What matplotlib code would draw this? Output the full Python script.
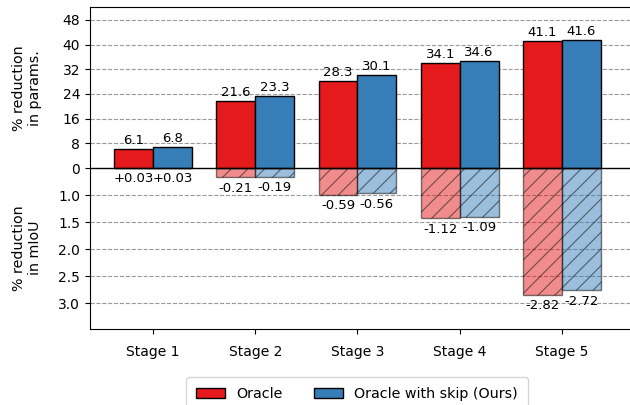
import matplotlib
matplotlib.use("Agg")
import matplotlib.pyplot as plt
import numpy as np
from matplotlib.patches import Patch

stages = ["Stage 1", "Stage 2", "Stage 3", "Stage 4", "Stage 5"]
params_oracle = [6.1, 21.6, 28.3, 34.1, 41.1]
params_skip = [6.8, 23.3, 30.1, 34.6, 41.6]
miou_oracle = [0.03, -0.21, -0.59, -1.12, -2.82]
miou_skip = [0.03, -0.19, -0.56, -1.09, -2.72]
series_names = ["Oracle", "Oracle with skip (Ours)"]
top_ticks = [0, 8, 16, 24, 32, 40, 48]
bottom_tick_pos = [0.6, 1.2, 1.8, 2.4, 3.0]
bottom_tick_labels = ["1.0", "1.5", "2.0", "2.5", "3.0"]

RED = "#e41a1c"
BLUE = "#377eb8"
SCALE = 14.6  # mIoU units -> axis units

plt.rcParams['font.family'] = ['DejaVu Sans']
plt.rcParams['hatch.linewidth'] = 0.8
fig = plt.figure(figsize=(6.3, 4.05), dpi=100)
ax = fig.add_axes([90/630, 1-329/405, (654-90)/630, (329-7)/405])

x = np.arange(len(stages))
w = 0.38

# hatched mIoU bars
for vals, col, off in [(miou_oracle, RED, -w/2), (miou_skip, BLUE, w/2)]:
    sv = [v*SCALE for v in vals]
    ax.bar(x+off, sv, w, color=col, alpha=0.5, hatch='//', edgecolor='black',
           linewidth=1, zorder=2)
    for xi, v in zip(x+off, vals):
        lab = f"+{v:.2f}" if v > 0 else f"{v:.2f}"
        ybot = min(0, v*SCALE)
        ax.text(xi, ybot-1.4, lab, ha='center', va='top', fontsize=9.5, zorder=5)

# solid params bars
for vals, col, off in [(params_oracle, RED, -w/2), (params_skip, BLUE, w/2)]:
    ax.bar(x+off, vals, w, color=col, edgecolor='black', linewidth=1, zorder=3)
    for xi, v in zip(x+off, vals):
        ax.text(xi, v+0.7, f"{v:.1f}", ha='center', va='bottom', fontsize=9.5, zorder=5)

ax.axhline(0, color='black', linewidth=1, zorder=4)

yt = top_ticks + [-p*SCALE for p in bottom_tick_pos]
yl = [str(t) for t in top_ticks] + bottom_tick_labels
ax.set_yticks(yt)
ax.set_yticklabels(yl, fontsize=10)
for t in yt:
    if t != 0:
        ax.axhline(t, color='gray', linestyle='--', linewidth=0.8, alpha=0.8, zorder=1)

ax.set_ylim(-52.2, 52.2)
ax.set_xlim(-0.616, 4.9)
ax.set_xticks(x)
ax.set_xticklabels(stages, fontsize=10)
ax.tick_params(axis='x', pad=8)

fig.text(27/630, 1-88/405, "% reduction\nin params.", rotation=90, ha='center',
         va='center', fontsize=10.3, multialignment='center')
fig.text(27/630, 1-248/405, "% reduction\nin mIoU", rotation=90, ha='center',
         va='center', fontsize=10.3, multialignment='center')

handles = [Patch(facecolor=RED, edgecolor='black'), Patch(facecolor=BLUE, edgecolor='black')]
fig.legend(handles, series_names, loc='upper center', ncol=2,
           bbox_to_anchor=(357/630, 1-370/405), fontsize=10.3, frameon=True,
           columnspacing=2.2, borderpad=0.7)

fig.savefig("out.png", dpi=100)
